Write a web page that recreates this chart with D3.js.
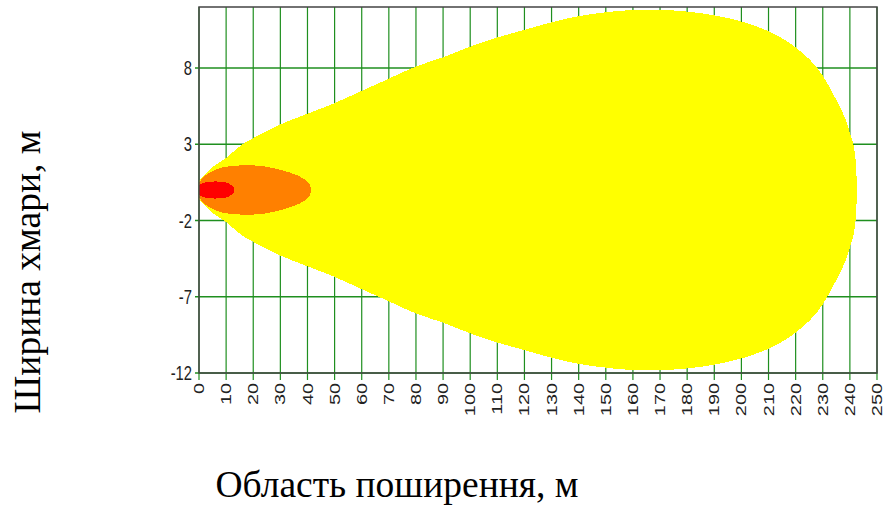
<!DOCTYPE html>
<html>
<head>
<meta charset="utf-8">
<script src="https://cdn.jsdelivr.net/npm/d3@7"></script>
<style>
  html, body { margin: 0; padding: 0; background: #fff; }
  svg { display: block; }
</style>
</head>
<body>
<svg id="chart" width="885" height="506"></svg>
<script>
// Zone outlines: distance along the plume (m) and cloud half-width (m)
const yellowDist = [0, 2, 5, 10, 16, 20, 30, 40, 50, 60, 70, 80, 90, 100, 110, 120, 130, 140, 150, 160, 170, 180, 190, 200, 210, 220, 230, 235, 240, 242, 242.7];
const yellowHalf = [0.6, 1.0, 1.5, 2.1, 3.0, 3.4, 4.3, 5.0, 5.7, 6.5, 7.3, 8.1, 8.7, 9.4, 10.0, 10.5, 11.0, 11.4, 11.65, 11.8, 11.8, 11.7, 11.45, 11.05, 10.4, 9.35, 7.5, 5.9, 3.75, 2.2, 0];

const orangeDist = [0, 2, 4, 8, 12, 18, 24, 30, 35, 38.5, 40, 41, 41.3];
const orangeHalf = [0.5, 0.9, 1.15, 1.45, 1.57, 1.62, 1.55, 1.32, 1.05, 0.75, 0.55, 0.3, 0];

const redDist = [0, 1, 3, 6, 9, 11, 12.3, 12.9, 13];
const redHalf = [0.3, 0.42, 0.52, 0.56, 0.52, 0.42, 0.26, 0.12, 0];

const xTickValues = [0, 10, 20, 30, 40, 50, 60, 70, 80, 90, 100, 110, 120, 130, 140, 150, 160, 170, 180, 190, 200, 210, 220, 230, 240, 250];
const yTickValues = [-12, -7, -2, 3, 8];

const xTitle = "Область поширення, м";
const yTitle = "Ширина хмари, м";

const zones = [
  { dist: yellowDist, half: yellowHalf, color: "#ffff00" },
  { dist: orangeDist, half: orangeHalf, color: "#ff8000" },
  { dist: redDist,    half: redHalf,    color: "#ff0000" }
];

const svg = d3.select("#chart");
const plot = { left: 199, right: 877, top: 7, bottom: 373 };

const x = d3.scaleLinear().domain([0, 250]).range([plot.left, plot.right]);
const y = d3.scaleLinear().domain([-12, 12]).range([plot.bottom, plot.top]);

const gridColor = "#1f8f1f";

// grid
const grid = svg.append("g");
grid.selectAll("line.v").data(xTickValues).join("line")
  .attr("x1", d => x(d)).attr("x2", d => x(d))
  .attr("y1", plot.top).attr("y2", plot.bottom + 7)
  .attr("stroke", gridColor).attr("stroke-width", 1.2);
grid.selectAll("line.h").data(yTickValues).join("line")
  .attr("x1", plot.left - 4).attr("x2", plot.right)
  .attr("y1", d => y(d)).attr("y2", d => y(d))
  .attr("stroke", gridColor).attr("stroke-width", 1.6);

// hazard zones, symmetric about the plume axis
const area = d3.area()
  .x(d => x(d[0]))
  .y0(d => y(-d[1]))
  .y1(d => y(d[1]))
  .curve(d3.curveMonotoneX);

svg.append("g").selectAll("path").data(zones).join("path")
  .attr("d", z => area(z.dist.map((v, i) => [v, z.half[i]])))
  .attr("fill", z => z.color)
  .attr("shape-rendering", "crispEdges");

// frame
svg.append("rect")
  .attr("x", plot.left).attr("y", plot.top)
  .attr("width", plot.right - plot.left).attr("height", plot.bottom - plot.top)
  .attr("fill", "none").attr("stroke", "#444").attr("stroke-width", 1.5);

// y tick labels (narrow)
svg.append("g").selectAll("text").data(yTickValues).join("text")
  .attr("transform", d => `translate(${plot.left - 7},${y(d)}) scale(0.74,1)`)
  .attr("text-anchor", "end")
  .attr("dy", "0.36em")
  .attr("font-family", "Liberation Sans, Arial, sans-serif")
  .attr("font-size", 20)
  .attr("fill", "#222")
  .text(d => d);

// x tick labels (rotated, wide)
svg.append("g").selectAll("text").data(xTickValues).join("text")
  .attr("transform", d => `translate(${x(d)},${plot.bottom + 10}) rotate(-90) scale(1.42,1)`)
  .attr("text-anchor", "end")
  .attr("dy", "0.36em")
  .attr("font-family", "Liberation Sans, Arial, sans-serif")
  .attr("font-size", 14)
  .attr("fill", "#222")
  .text(d => d);

// axis titles
svg.append("text")
  .attr("x", 397).attr("y", 497)
  .attr("text-anchor", "middle")
  .attr("font-family", "Liberation Serif, Times New Roman, serif")
  .attr("font-size", 37.5)
  .attr("fill", "#000")
  .text(xTitle);

svg.append("text")
  .attr("transform", "translate(40,272) rotate(-90)")
  .attr("text-anchor", "middle")
  .attr("font-family", "Liberation Serif, Times New Roman, serif")
  .attr("font-size", 37.5)
  .attr("fill", "#000")
  .text(yTitle);
</script>
</body>
</html>
